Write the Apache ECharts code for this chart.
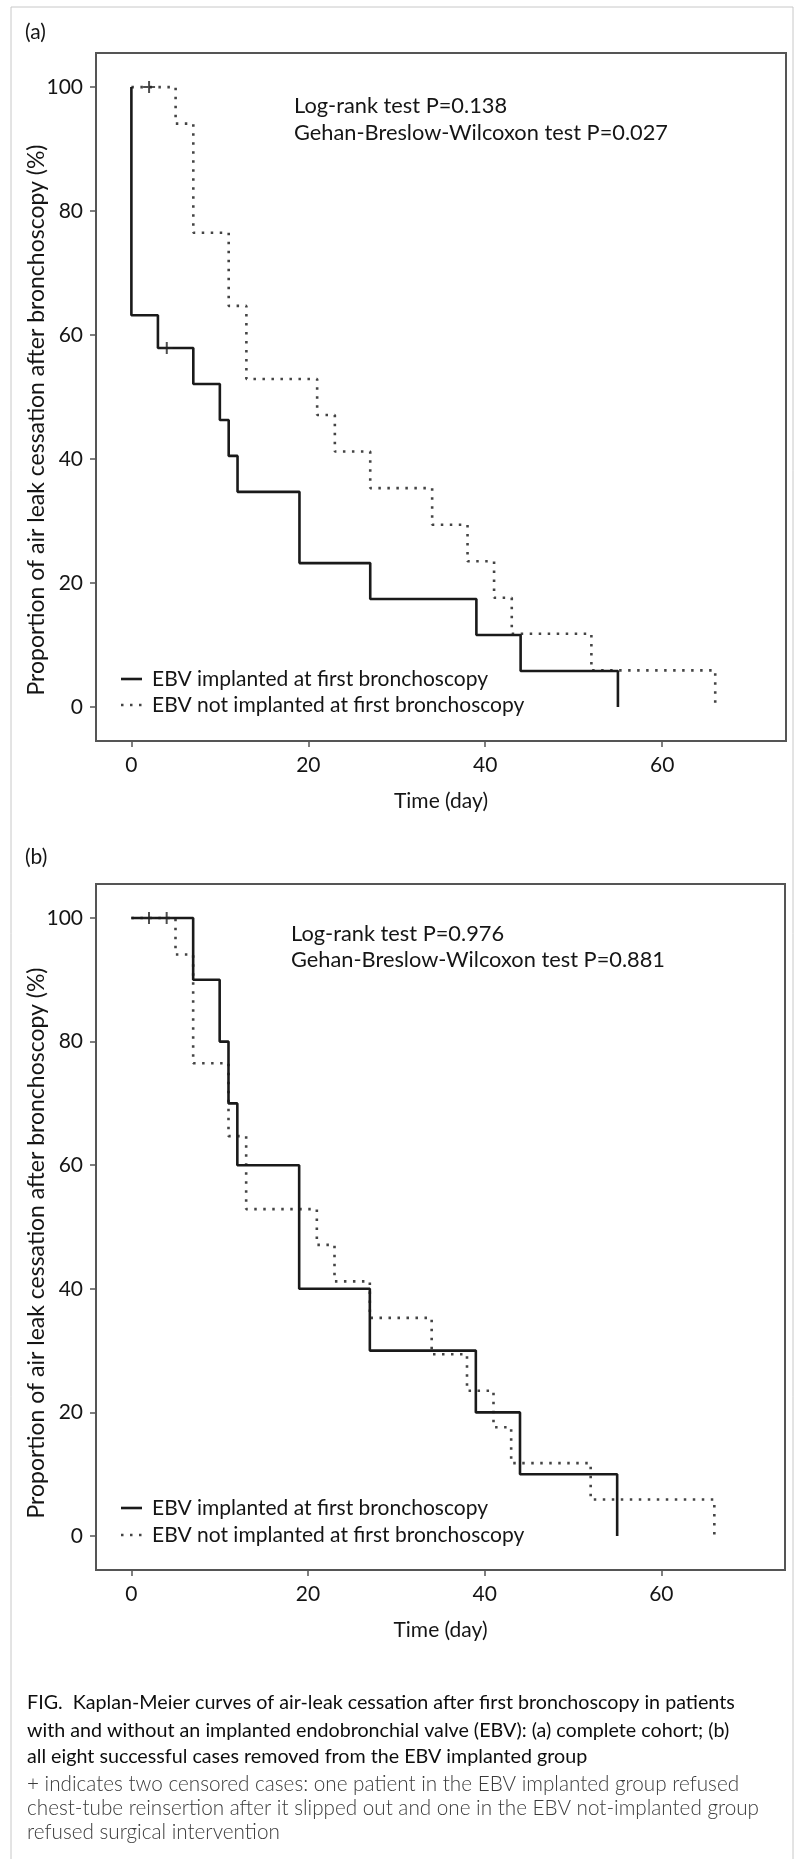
<!DOCTYPE html>
<html>
<head>
<meta charset="utf-8">
<script src="https://cdn.jsdelivr.net/npm/echarts@6/dist/echarts.min.js"></script>
<style>
html,body{margin:0;padding:0;background:#fff;}
#chart{width:803px;height:1859px;}
</style>
</head>
<body>
<div id="chart"></div>
<script>
// ---- data ----
const seriesNames = ['EBV implanted at first bronchoscopy', 'EBV not implanted at first bronchoscopy'];

// Panel (a): complete cohort
const daysA_EBV = [0, 0, 3, 7, 10, 11, 12, 19, 27, 39, 44, 55];
const valsA_EBV = [100, 63.2, 57.9, 52.1, 46.3, 40.5, 34.7, 23.2, 17.4, 11.6, 5.8, 0];
const daysA_Non = [0, 5, 7, 11, 13, 21, 23, 27, 34, 38, 41, 43, 52, 66];
const valsA_Non = [100, 94.1, 76.5, 64.7, 52.9, 47.1, 41.2, 35.3, 29.4, 23.5, 17.6, 11.8, 5.9, 0];
const censorDaysA_EBV = [4];
const censorValsA_EBV = [57.9];
const censorDaysA_Non = [2];
const censorValsA_Non = [100];

// Panel (b): eight successful cases removed from EBV group
const daysB_EBV = [0, 7, 10, 11, 12, 19, 27, 39, 44, 55];
const valsB_EBV = [100, 90, 80, 70, 60, 40, 30, 20, 10, 0];
const daysB_Non = [0, 5, 7, 11, 13, 21, 23, 27, 34, 38, 41, 43, 52, 66];
const valsB_Non = [100, 94.1, 76.5, 64.7, 52.9, 47.1, 41.2, 35.3, 29.4, 23.5, 17.6, 11.8, 5.9, 0];
const censorDaysB_EBV = [4];
const censorValsB_EBV = [100];
const censorDaysB_Non = [2];
const censorValsB_Non = [100];

const yTicks = [0, 20, 40, 60, 80, 100];
const xTicks = [0, 20, 40, 60];
const statsA = ['Log-rank test P=0.138', 'Gehan-Breslow-Wilcoxon test P=0.027'];
const statsB = ['Log-rank test P=0.976', 'Gehan-Breslow-Wilcoxon test P=0.881'];
const panelLabels = ['(a)', '(b)'];
const yTitle = 'Proportion of air leak cessation after bronchoscopy (%)';
const xTitle = 'Time (day)';
const captionBold = [
  'FIG.  Kaplan-Meier curves of air-leak cessation after first bronchoscopy in patients',
  'with and without an implanted endobronchial valve (EBV): (a) complete cohort; (b)',
  'all eight successful cases removed from the EBV implanted group'
];
const captionLight = [
  '+ indicates two censored cases: one patient in the EBV implanted group refused',
  'chest-tube reinsertion after it slipped out and one in the EBV not-implanted group',
  'refused surgical intervention'
];

// ---- helpers ----
const FONT = 'Lato, "Open Sans", sans-serif';
const TXT = '#151515';
const zip = (xs, ys) => xs.map((x, i) => [x, ys[i]]);
const plusPath = 'path://M5,0h2v5h5v2h-5v5h-2v-5h-5v-2h5z';
const solidStyle = { color: '#1a1a1a', width: 2.6, type: 'solid' };
const dotStyle = { color: '#444', width: 2.6, type: [2.5, 6.5], cap: 'butt' };

function xAxisDef(gi) {
  return {
    gridIndex: gi, type: 'value', min: -4, max: 74,
    splitLine: { show: false },
    axisLine: { show: false, onZero: false },
    axisTick: { show: true, inside: false, length: 6, customValues: xTicks, lineStyle: { color: '#555', width: 1.5 } },
    axisLabel: { customValues: xTicks, margin: 14, fontFamily: FONT, fontSize: 21, color: TXT },
    name: xTitle, nameLocation: 'middle', nameGap: 50,
    nameTextStyle: { fontFamily: FONT, fontSize: 21, color: TXT }
  };
}
function yAxisDef(gi) {
  return {
    gridIndex: gi, type: 'value', min: -5.5, max: 105.5,
    splitLine: { show: false },
    axisLine: { show: false, onZero: false },
    axisTick: { show: true, inside: false, length: 6, customValues: yTicks, lineStyle: { color: '#555', width: 1.5 } },
    axisLabel: { customValues: yTicks, margin: 13, fontFamily: FONT, fontSize: 21, color: TXT }
  };
}
function stepSeries(name, gi, data, style) {
  return {
    name: name, type: 'line', step: 'end', xAxisIndex: gi, yAxisIndex: gi,
    data: data, symbol: 'none', showSymbol: false, lineStyle: style,
    itemStyle: { color: style.color }, silent: true, animation: false, z: style.type === 'solid' ? 3 : 2
  };
}
function censorSeries(gi, data) {
  return {
    type: 'scatter', xAxisIndex: gi, yAxisIndex: gi, data: data,
    symbol: plusPath, symbolSize: 12, itemStyle: { color: '#222' }, silent: true, animation: false, z: 5
  };
}
function textEl(x, y, text, opt) {
  return {
    type: 'text', x: x, y: y, silent: true,
    style: Object.assign({ text: text, fontFamily: FONT, fontSize: 21, fill: TXT, align: 'left', verticalAlign: 'middle' }, opt || {})
  };
}
function legendEls(y1, y2) {
  return [
    { type: 'line', silent: true, shape: { x1: 121, y1: y1, x2: 142, y2: y1 }, style: { stroke: solidStyle.color, lineWidth: solidStyle.width } },
    textEl(152, y1, seriesNames[0]),
    { type: 'line', silent: true, shape: { x1: 121, y1: y2, x2: 144, y2: y2 }, style: { stroke: dotStyle.color, lineWidth: dotStyle.width, lineDash: dotStyle.type } },
    textEl(152, y2, seriesNames[1])
  ];
}

const chart = echarts.init(document.getElementById('chart'), null, { renderer: 'canvas' });

let graphics = [
  { type: 'rect', silent: true, shape: { x: 11, y: 7, width: 782, height: 1900 }, style: { fill: 'none', stroke: '#c8c8c8', lineWidth: 1 }, z: -10 },
  textEl(25, 32, panelLabels[0]),
  textEl(25, 857, panelLabels[1]),
  textEl(294, 106, statsA[0], { fontSize: 21.8 }),
  textEl(294, 133, statsA[1], { fontSize: 21.8 }),
  textEl(291, 934, statsB[0], { fontSize: 21.8 }),
  textEl(291, 960, statsB[1], { fontSize: 21.8 }),
  Object.assign(textEl(37, 420, yTitle, { align: 'center', fontSize: 23 }), { rotation: Math.PI / 2 }),
  Object.assign(textEl(37, 1243, yTitle, { align: 'center', fontSize: 23 }), { rotation: Math.PI / 2 })
];
graphics = graphics.concat(legendEls(679, 705), legendEls(1508, 1535));
const capY = [1703, 1731, 1757];
captionBold.forEach((t, i) => graphics.push(textEl(27, capY[i], t, { fontSize: 19.7, fill: '#0d0d0d' })));
const capY2 = [1784, 1808, 1832];
captionLight.forEach((t, i) => graphics.push(textEl(27, capY2[i], t, { fontSize: 20.7, fill: '#3a3a3a', fontWeight: 300 })));

chart.setOption({
  backgroundColor: '#fff',
  animation: false,
  grid: [
    { left: 96, top: 53, width: 690, height: 688, show: true, borderColor: '#555', borderWidth: 2, backgroundColor: 'transparent' },
    { left: 96, top: 884, width: 689, height: 686, show: true, borderColor: '#555', borderWidth: 2, backgroundColor: 'transparent' }
  ],
  xAxis: [xAxisDef(0), xAxisDef(1)],
  yAxis: [yAxisDef(0), yAxisDef(1)],
  series: [
    stepSeries(seriesNames[0], 0, zip(daysA_EBV, valsA_EBV), solidStyle),
    stepSeries(seriesNames[1], 0, zip(daysA_Non, valsA_Non), dotStyle),
    censorSeries(0, zip(censorDaysA_EBV, censorValsA_EBV)),
    censorSeries(0, zip(censorDaysA_Non, censorValsA_Non)),
    stepSeries(seriesNames[0], 1, zip(daysB_EBV, valsB_EBV), solidStyle),
    stepSeries(seriesNames[1], 1, zip(daysB_Non, valsB_Non), dotStyle),
    censorSeries(1, zip(censorDaysB_EBV, censorValsB_EBV)),
    censorSeries(1, zip(censorDaysB_Non, censorValsB_Non))
  ],
  graphic: graphics
});
</script>
</body>
</html>
